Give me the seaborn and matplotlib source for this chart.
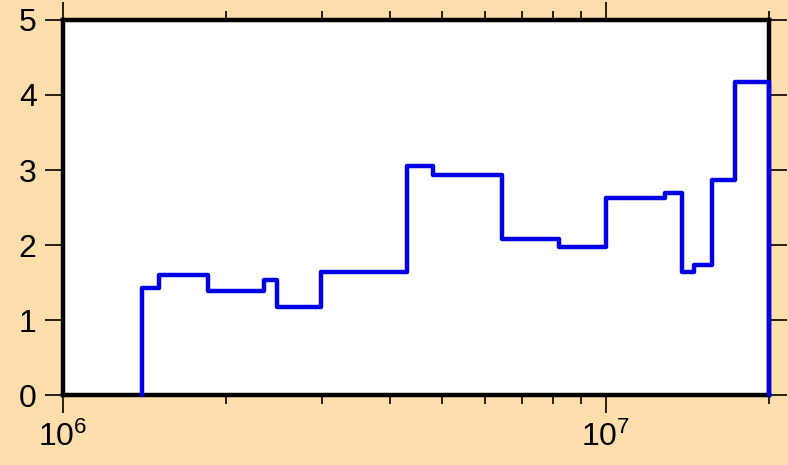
import numpy as np
import pandas as pd
import matplotlib
matplotlib.use('Agg')
import matplotlib.pyplot as plt
import seaborn as sns

# Bin edges (log axis) and bin heights
bin_edges = [1.40e6, 1.50e6, 1.85e6, 2.35e6, 2.48e6, 2.99e6, 4.30e6, 4.80e6,
             6.43e6, 8.19e6, 1.00e7, 1.284e7, 1.38e7, 1.454e7, 1.57e7, 1.733e7, 2.00e7]
bin_heights = [1.43, 1.60, 1.39, 1.53, 1.18, 1.64, 3.05, 2.93,
               2.08, 1.97, 2.63, 2.70, 1.64, 1.74, 2.87, 4.17]
y_ticks = [0, 1, 2, 3, 4, 5]

# Step outline: rise from zero at the first edge, fall back to zero at the last edge
xs = np.repeat(bin_edges, 2)
ys = np.concatenate([[0], np.repeat(bin_heights, 2), [0]])
plot_data = pd.DataFrame({'x': xs, 'y': ys})

sns.set_style('ticks')
plt.rcParams['font.family'] = ['Liberation Sans', 'DejaVu Sans']
plt.rcParams['mathtext.default'] = 'regular'

bg = '#fddeac'
fig = plt.figure(figsize=(7.88, 4.65), dpi=100, facecolor=bg)
ax = fig.add_axes([0.080, 0.1505, 0.896, 0.8065])
ax.set_facecolor('white')

sns.lineplot(data=plot_data, x='x', y='y', estimator=None, sort=False,
             color='#0000e6', linewidth=3.2, ax=ax, zorder=3, clip_on=False)

ax.set_xscale('log')
ax.set_xlim(1e6, 2e7)
ax.set_ylim(0, 5)
ax.set_yticks(y_ticks)
ax.set_xlabel('')
ax.set_ylabel('')

for side in ['left', 'right', 'top', 'bottom']:
    ax.spines[side].set_visible(True)
    ax.spines[side].set_linewidth(3.2)
    ax.spines[side].set_color('black')

ax.tick_params(which='major', direction='out', length=13, width=1.2, color='black',
               top=True, right=True, labeltop=False, labelright=False,
               labelsize=23, labelcolor='black')
ax.tick_params(axis='y', which='major', pad=6)
ax.tick_params(axis='x', which='major', pad=6)
ax.tick_params(which='minor', direction='out', length=6.5, width=1.2, color='black',
               top=True, bottom=True)
ax.tick_params(axis='y', which='minor', left=False, right=False)

fig.savefig('out.png', dpi=100, facecolor=bg)
